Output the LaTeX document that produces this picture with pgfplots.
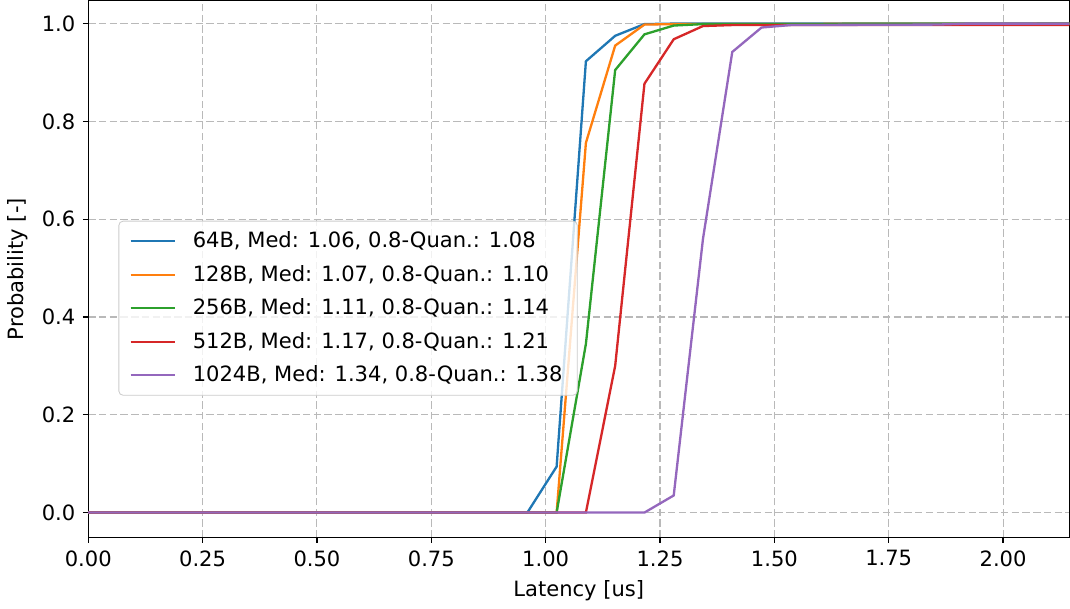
\documentclass[border=0pt]{standalone}
\usepackage{fontspec}
\setmainfont{DejaVu Sans}
\usepackage{pgfplots}
\pgfplotsset{compat=1.18}

\definecolor{tabblue}{HTML}{1F77B4}
\definecolor{taborange}{HTML}{FF7F0E}
\definecolor{tabgreen}{HTML}{2CA02C}
\definecolor{tabred}{HTML}{D62728}
\definecolor{tabpurple}{HTML}{9467BD}

\begin{document}
\begin{tikzpicture}
\begin{axis}[
    scale only axis,
    width=466pt, height=255pt,
    xmin=0, xmax=2.145,
    ymin=-0.051, ymax=1.047,
    xtick={0,0.25,...,2.0},
    ytick={0,0.2,...,1.0},
    xtick pos=left, ytick pos=left,
    tick align=outside,
    major tick length=2.6pt,
    every tick/.style={black, line width=0.6pt},
    axis line style={line width=0.6pt},
    xticklabel style={/pgf/number format/.cd, fixed, fixed zerofill, precision=2},
    yticklabel style={/pgf/number format/.cd, fixed, fixed zerofill, precision=1},
    /pgf/number format/assume math mode=true,
    tick label style={font=\fontsize{10}{12}\selectfont},
    label style={font=\fontsize{10}{12}\selectfont},
    xlabel={Latency [us]},
    ylabel={Probability [-]},
    grid=major,
    major grid style={gray!55, line width=0.5pt, dash pattern=on 3.5pt off 1.6pt},
    legend style={at={(0.034,0.59)}, anchor=north west, xshift=-1.5pt,
        draw=black!20, rounded corners=2pt, fill=white, fill opacity=0.8, text opacity=1,
        font=\fontsize{10}{12}\selectfont, row sep=2.8pt,
        inner xsep=5pt, inner ysep=3pt,
        /tikz/every odd column/.append style={column sep=6pt}},
    legend cell align=left,
    legend image code/.code={\draw[#1, line width=1.1pt] (0pt,0pt) -- (21pt,0pt);},
]
\addplot[tabblue, line width=1.1pt] coordinates {
    (0,0) (0.96,0) (1.024,0.094) (1.088,0.923) (1.152,0.975)
    (1.216,0.999) (1.28,1.0) (2.176,1.0)
};
\addplot[taborange, line width=1.1pt] coordinates {
    (0,0) (1.024,0) (1.088,0.756) (1.152,0.955) (1.216,0.998)
    (1.28,0.999) (2.176,1.0)
};
\addplot[tabgreen, line width=1.1pt] coordinates {
    (0,0) (1.024,0) (1.088,0.345) (1.152,0.905) (1.216,0.978)
    (1.28,0.996) (1.344,0.999) (2.176,1.0)
};
\addplot[tabred, line width=1.1pt] coordinates {
    (0,0) (1.088,0) (1.152,0.30) (1.216,0.877) (1.28,0.968)
    (1.344,0.995) (1.408,0.997) (2.176,0.997)
};
\addplot[tabpurple, line width=1.1pt] coordinates {
    (0,0) (1.216,0) (1.28,0.035) (1.344,0.56) (1.408,0.942)
    (1.472,0.992) (1.536,0.997) (1.856,0.998) (1.92,1.0) (2.176,1.0)
};
\legend{{64B, Med: 1.06, 0.8-Quan.: 1.08},
        {128B, Med: 1.07, 0.8-Quan.: 1.10},
        {256B, Med: 1.11, 0.8-Quan.: 1.14},
        {512B, Med: 1.17, 0.8-Quan.: 1.21},
        {1024B, Med: 1.34, 0.8-Quan.: 1.38}}
\end{axis}
\end{tikzpicture}
\end{document}
